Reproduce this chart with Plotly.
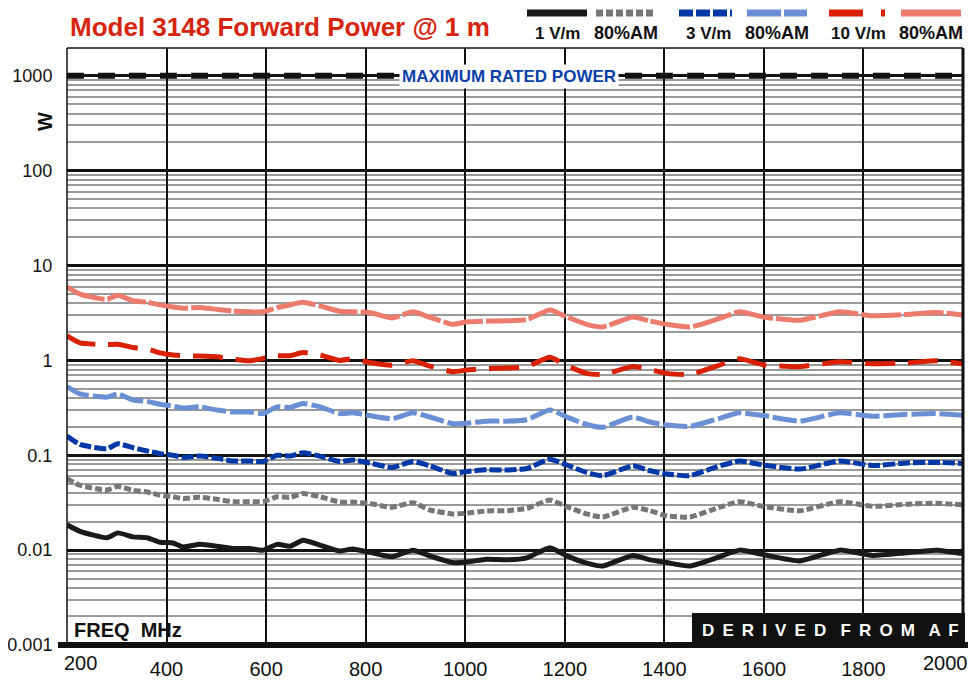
import plotly.graph_objects as go

FREQ_MHZ = [200, 226, 280, 302, 333, 361, 387, 413, 433, 467, 501, 533, 567, 594, 622, 648,
            674, 708, 748, 774, 808, 853, 895, 929, 975, 1003, 1043, 1084, 1124, 1170, 1204,
            1244, 1276, 1337, 1371, 1405, 1451, 1505, 1551, 1598, 1672, 1752, 1818, 1887, 1947, 2000]

P_1VM = [0.0185, 0.0158, 0.0135, 0.0152, 0.0138, 0.0135, 0.0121, 0.0119, 0.0108, 0.0115, 0.0110,
         0.0104, 0.0104, 0.0100, 0.0115, 0.0110, 0.0127, 0.0113, 0.0098, 0.0103, 0.0095, 0.0085,
         0.0100, 0.0087, 0.0074, 0.0075, 0.0080, 0.0079, 0.0083, 0.0106, 0.0087, 0.0073, 0.0068,
         0.0088, 0.0079, 0.0074, 0.0068, 0.0083, 0.0100, 0.0090, 0.0077, 0.0100, 0.0088, 0.0094,
         0.0100, 0.0092]
P_1VM_AM = [0.0568, 0.0483, 0.0430, 0.0470, 0.0427, 0.0410, 0.0380, 0.0365, 0.0350, 0.0360, 0.0343,
            0.0324, 0.0324, 0.0324, 0.0365, 0.0360, 0.0396, 0.0365, 0.0321, 0.0321, 0.0310, 0.0283,
            0.0316, 0.0265, 0.0241, 0.0245, 0.0259, 0.0260, 0.0276, 0.0337, 0.0287, 0.0241, 0.0223,
            0.0283, 0.0260, 0.0230, 0.0223, 0.0276, 0.0324, 0.0290, 0.0260, 0.0324, 0.0290, 0.0305,
            0.0312, 0.0300]
P_3VM = [0.159, 0.130, 0.117, 0.132, 0.120, 0.111, 0.104, 0.100, 0.095, 0.098, 0.093, 0.087, 0.087,
         0.086, 0.100, 0.098, 0.106, 0.098, 0.086, 0.089, 0.083, 0.0743, 0.086, 0.0774, 0.0643,
         0.0675, 0.0703, 0.0698, 0.0725, 0.091, 0.079, 0.0659, 0.0609, 0.0774, 0.0686, 0.0634,
         0.0609, 0.0755, 0.087, 0.079, 0.0715, 0.087, 0.078, 0.083, 0.084, 0.082]
P_3VM_AM = [0.53, 0.443, 0.41, 0.443, 0.382, 0.37, 0.345, 0.33, 0.315, 0.324, 0.30, 0.286, 0.286,
            0.275, 0.324, 0.319, 0.352, 0.324, 0.275, 0.28, 0.262, 0.243, 0.28, 0.253, 0.215, 0.218,
            0.229, 0.229, 0.237, 0.30, 0.253, 0.211, 0.197, 0.253, 0.224, 0.208, 0.201, 0.24, 0.28,
            0.262, 0.229, 0.28, 0.258, 0.27, 0.275, 0.264]
P_10VM = [1.81, 1.53, 1.47, 1.48, 1.37, 1.32, 1.20, 1.14, 1.12, 1.11, 1.09, 1.03, 0.99, 1.05, 1.12,
          1.12, 1.21, 1.14, 1.00, 1.04, 0.95, 0.89, 0.99, 0.87, 0.76, 0.79, 0.82, 0.83, 0.86, 1.08,
          0.88, 0.73, 0.71, 0.86, 0.80, 0.73, 0.71, 0.87, 1.04, 0.90, 0.86, 0.97, 0.92, 0.94, 0.99, 0.92]
P_10VM_AM = [5.97, 5.0, 4.4, 4.85, 4.25, 4.1, 3.85, 3.65, 3.55, 3.62, 3.45, 3.3, 3.25, 3.25, 3.6, 3.85,
             4.1, 3.75, 3.3, 3.25, 3.2, 2.8, 3.25, 2.85, 2.4, 2.55, 2.6, 2.62, 2.7, 3.4, 2.87, 2.4,
             2.25, 2.87, 2.6, 2.4, 2.25, 2.7, 3.25, 2.87, 2.65, 3.25, 2.95, 3.05, 3.2, 3.0]

MAX_RATED_W = 1000
X_RANGE = [200, 2000]
X_TICKS = [200, 400, 600, 800, 1000, 1200, 1400, 1600, 1800, 2000]
X_TICK_TEXT = ["", "400", "600", "800", "1000", "1200", "1400", "1600", "1800", ""]
X_END_LABELS = ["200", "2000"]
Y_TICKS = [0.001, 0.01, 0.1, 1, 10, 100, 1000]
Y_TICK_TEXT = ["0.001", "0.01", "0.1", "1", "10", "100", "1000"]

SERIES = [
    ("10 V/m 80%AM", P_10VM_AM, "#ec7b6e", "40px,3px"),
    ("10 V/m", P_10VM, "#d92000", "30px,13px"),
    ("3 V/m 80%AM", P_3VM_AM, "#6b8fd4", "24px,4px"),
    ("3 V/m", P_3VM, "#0038a8", "12px,3px"),
    ("1 V/m 80%AM", P_1VM_AM, "#777777", "7px,3px"),
    ("1 V/m", P_1VM, "#1a1a1a", "solid"),
]

SANS = "Liberation Sans, Arial, sans-serif"

fig = go.Figure()

fig.add_trace(go.Scatter(x=X_RANGE, y=[MAX_RATED_W, MAX_RATED_W], mode="lines",
                         line=dict(color="#111111", width=1.5), hoverinfo="skip", showlegend=False))
fig.add_trace(go.Scatter(x=X_RANGE, y=[MAX_RATED_W, MAX_RATED_W], mode="lines",
                         line=dict(color="#111111", width=6, dash="17px,14px"),
                         hoverinfo="skip", showlegend=False))

for name, vals, color, dash in SERIES:
    fig.add_trace(go.Scatter(x=FREQ_MHZ, y=vals, mode="lines", name=name,
                             line=dict(color=color, width=5, dash=dash, shape="spline", smoothing=0.5),
                             showlegend=False))

# page offset (body margin) compensation: reference pixel -> figure pixel
OFF = 8
W, H = 977 - OFF, 682 - OFF
L, R, T, B = 67 - OFF, 963 - OFF, 48 - OFF, 645 - OFF
def px(x):
    return (x - OFF - L) / (R - L)
def py(y):
    return (B - (y - OFF)) / (B - T)

shapes = []
shapes.append(dict(type="line", xref="paper", yref="paper", x0=0, x1=0, y0=0, y1=1,
                   line=dict(color="#111", width=1.5)))
shapes.append(dict(type="line", xref="paper", yref="paper", x0=0, x1=1, y0=1, y1=1,
                   line=dict(color="#111", width=1.5)))
shapes.append(dict(type="line", xref="paper", yref="paper", x0=1, x1=1, y0=0, y1=1,
                   line=dict(color="#111", width=3)))
shapes.append(dict(type="rect", xref="paper", yref="paper", x0=px(692), x1=px(965), y0=0, y1=py(613),
                   fillcolor="#111111", line=dict(width=0)))
shapes.append(dict(type="line", xref="paper", yref="paper", x0=px(58), x1=px(968), y0=0, y1=0,
                   line=dict(color="#111", width=6)))

ly = py(13)
leg = [
    (527, 587, "#1a1a1a", "solid"),
    (596, 655, "#777777", "7px,3px"),
    (679, 732, "#0038a8", "14px,3px"),
    (747, 807, "#6b8fd4", "34px,3px"),
    (829, 863, "#d92000", "solid"),
    (881, 885, "#d92000", "solid"),
    (901, 961, "#ec7b6e", "solid"),
]
for x0, x1, c, d in leg:
    shapes.append(dict(type="line", xref="paper", yref="paper", x0=px(x0), x1=px(x1), y0=ly, y1=ly,
                       line=dict(color=c, width=7, dash=d)))

annotations = []
annotations.append(dict(text="Model 3148 Forward Power @ 1 m", xref="paper", yref="paper",
                        x=px(68), y=py(27), xanchor="left", yanchor="middle", showarrow=False,
                        font=dict(family=SANS, size=26, color="#d6250f", weight="bold")))
leg_text = [(557, "1 V/m", 17), (626, "80%AM", 18), (708, "3 V/m", 17), (777, "80%AM", 18),
            (858, "10 V/m", 17), (931, "80%AM", 18)]
for x, t, s in leg_text:
    annotations.append(dict(text=t, xref="paper", yref="paper", x=px(x), y=py(33),
                            xanchor="center", yanchor="middle", showarrow=False,
                            font=dict(family=SANS, size=s, color="#111", weight="bold")))
annotations.append(dict(text="MAXIMUM RATED POWER", xref="paper", yref="paper", x=px(509), y=py(76),
                        xanchor="center", yanchor="middle", showarrow=False, bgcolor="white", borderpad=2,
                        font=dict(family=SANS, size=17, color="#0a3fa8", weight="bold")))
annotations.append(dict(text="W", xref="paper", yref="paper", x=px(45), y=py(122), textangle=-90,
                        xanchor="center", yanchor="middle", showarrow=False,
                        font=dict(family=SANS, size=20, color="#111", weight="bold")))
annotations.append(dict(text="FREQ  MHz", xref="paper", yref="paper", x=px(72), y=py(630),
                        xanchor="left", yanchor="middle", showarrow=False,
                        font=dict(family=SANS, size=20, color="#111", weight="bold")))
sp = " \u2009"
derived = "   ".join(sp.join(list(w)) for w in ["DERIVED", "FROM", "AF"])
annotations.append(dict(text=derived, xref="paper", yref="paper",
                        x=px(830), y=py(630), xanchor="center", yanchor="middle", showarrow=False,
                        font=dict(family=SANS, size=17, color="white", weight="bold")))
for lbl, cx in zip(X_END_LABELS, [80, 945]):
    annotations.append(dict(text=lbl, xref="paper", yref="paper", x=px(cx), y=py(663),
                            xanchor="center", yanchor="middle", showarrow=False,
                            font=dict(family=SANS, size=20, color="#111")))

fig.update_layout(
    width=W, height=H,
    margin=dict(l=L, r=W - R, t=T, b=H - B, autoexpand=False),
    paper_bgcolor="white", plot_bgcolor="white",
    shapes=shapes, annotations=annotations,
    showlegend=False,
    xaxis=dict(range=X_RANGE, tickvals=X_TICKS, ticktext=X_TICK_TEXT, showgrid=True,
               gridcolor="#111", gridwidth=2,
               zeroline=False, showline=False, ticks="outside", ticklen=6, tickcolor="rgba(0,0,0,0)",
               automargin=False, tickfont=dict(family=SANS, size=20, color="#111")),
    yaxis=dict(type="log", range=[-3, 3.293], tickvals=Y_TICKS, ticktext=Y_TICK_TEXT,
               showgrid=True, gridcolor="#111", gridwidth=3, zeroline=False, showline=False,
               ticks="outside", ticklen=10, tickcolor="rgba(0,0,0,0)", automargin=False,
               tickfont=dict(family=SANS, size=18, color="#111"),
               minor=dict(dtick="D1", showgrid=True, gridcolor="#9a9a9a", gridwidth=1.5, ticks="")),
)

fig.write_html("out.html")
